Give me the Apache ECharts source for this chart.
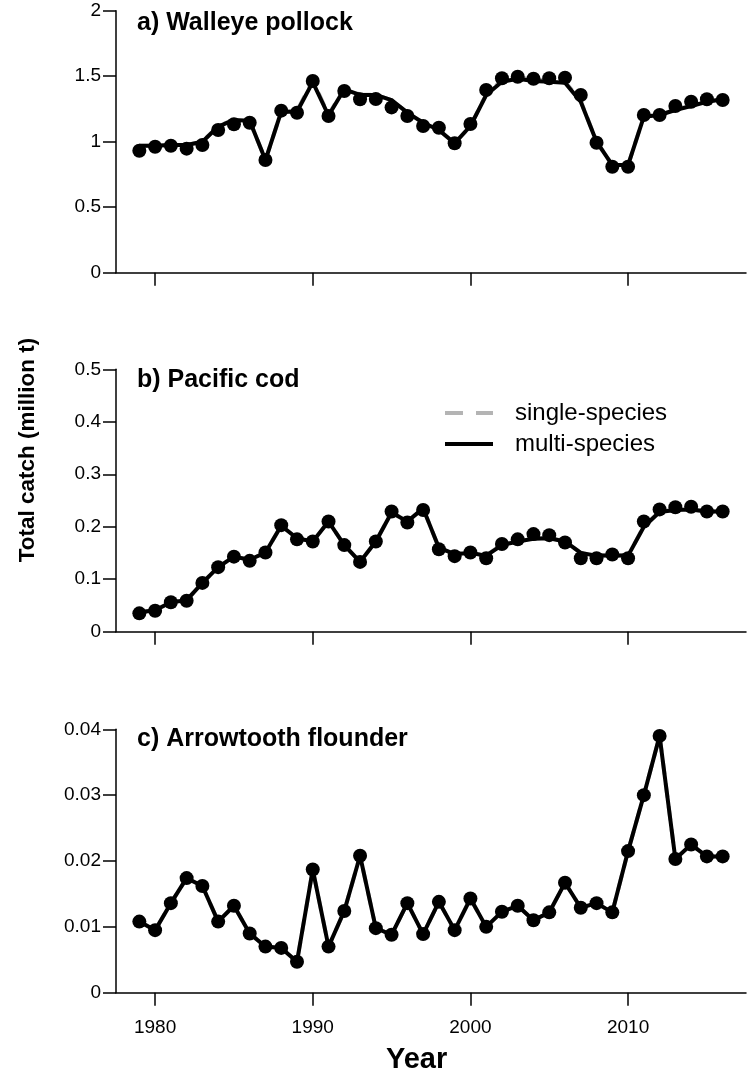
<!DOCTYPE html>
<html>
<head>
<meta charset="utf-8">
<script src="https://cdn.jsdelivr.net/npm/echarts@6/dist/echarts.min.js"></script>
<style>html,body{margin:0;padding:0;background:#fff}#c{width:748px;height:1077px}</style>
</head>
<body>
<div id="c"></div>
<script>
const years = [1979,1980,1981,1982,1983,1984,1985,1986,1987,1988,1989,1990,1991,1992,1993,1994,1995,1996,1997,1998,1999,2000,2001,2002,2003,2004,2005,2006,2007,2008,2009,2010,2011,2012,2013,2014,2015,2016];
const xTicks = [1980,1990,2000,2010];

const pollockObs = [0.931,0.962,0.969,0.947,0.975,1.089,1.133,1.145,0.860,1.237,1.221,1.463,1.196,1.387,1.324,1.326,1.262,1.196,1.120,1.107,0.988,1.135,1.395,1.484,1.496,1.481,1.484,1.489,1.356,0.992,0.809,0.809,1.204,1.204,1.272,1.305,1.324,1.318];
const pollockMulti = [0.969,0.970,0.975,0.975,1.000,1.115,1.166,1.160,0.860,1.229,1.229,1.455,1.200,1.400,1.357,1.357,1.318,1.222,1.145,1.089,0.988,1.120,1.356,1.458,1.481,1.463,1.458,1.450,1.305,1.000,0.822,0.822,1.191,1.204,1.242,1.272,1.305,1.324];
const pollockSingle = [0.969,0.970,0.975,0.975,1.000,1.120,1.166,1.160,0.860,1.229,1.235,1.470,1.205,1.410,1.360,1.357,1.318,1.222,1.145,1.089,0.988,1.120,1.360,1.470,1.490,1.475,1.470,1.460,1.310,1.000,0.822,0.822,1.195,1.206,1.245,1.275,1.307,1.325];

const codObs = [0.035,0.040,0.056,0.059,0.093,0.123,0.143,0.135,0.151,0.203,0.176,0.172,0.210,0.165,0.133,0.172,0.229,0.208,0.232,0.157,0.144,0.151,0.140,0.167,0.176,0.186,0.184,0.170,0.140,0.140,0.147,0.140,0.210,0.233,0.237,0.238,0.229,0.229];
const codMulti = [0.037,0.041,0.056,0.060,0.093,0.123,0.143,0.137,0.151,0.202,0.178,0.172,0.210,0.165,0.133,0.172,0.227,0.210,0.235,0.160,0.148,0.150,0.145,0.165,0.172,0.177,0.178,0.172,0.150,0.145,0.145,0.145,0.200,0.228,0.232,0.233,0.229,0.229];
const codSingle = [0.037,0.041,0.056,0.060,0.093,0.123,0.143,0.137,0.151,0.202,0.178,0.172,0.210,0.165,0.133,0.172,0.227,0.210,0.235,0.160,0.148,0.150,0.145,0.166,0.173,0.178,0.179,0.172,0.150,0.145,0.145,0.145,0.201,0.229,0.233,0.233,0.229,0.229];

const flounderObs = [0.0108,0.0095,0.0136,0.0174,0.0162,0.0108,0.0132,0.0090,0.0070,0.0068,0.0047,0.0187,0.0070,0.0124,0.0208,0.0098,0.0088,0.0136,0.0089,0.0138,0.0095,0.0143,0.0100,0.0123,0.0132,0.0110,0.0122,0.0167,0.0129,0.0136,0.0122,0.0215,0.0300,0.0390,0.0203,0.0225,0.0207,0.0207];
const flounderMulti = [0.0108,0.0095,0.0136,0.0174,0.0162,0.0108,0.0132,0.0090,0.0070,0.0068,0.0047,0.0187,0.0070,0.0124,0.0208,0.0098,0.0088,0.0136,0.0089,0.0138,0.0095,0.0143,0.0100,0.0123,0.0132,0.0110,0.0122,0.0167,0.0129,0.0136,0.0122,0.0215,0.0300,0.0390,0.0203,0.0225,0.0207,0.0207];
const flounderSingle = [0.0108,0.0095,0.0136,0.0174,0.0162,0.0108,0.0132,0.0090,0.0070,0.0068,0.0047,0.0187,0.0070,0.0124,0.0208,0.0098,0.0088,0.0136,0.0089,0.0138,0.0095,0.0143,0.0100,0.0123,0.0132,0.0110,0.0122,0.0167,0.0129,0.0136,0.0122,0.0215,0.0300,0.0390,0.0203,0.0225,0.0207,0.0207];

const panelTitles = ['a) Walleye pollock','b) Pacific cod','c) Arrowtooth flounder'];
const yMax = [2, 0.5, 0.04];
const yInterval = [0.5, 0.1, 0.01];
const obsSets = [pollockObs, codObs, flounderObs];
const multiSets = [pollockMulti, codMulti, flounderMulti];
const singleSets = [pollockSingle, codSingle, flounderSingle];

const FONT = 'Liberation Sans, Arial, sans-serif';
const grids = [
  {left:116, width:630, top:10.7, height:262},
  {left:116, width:630, top:369.3, height:262.4},
  {left:116, width:630, top:729.3, height:263.4}
];
const titleTops = [10.5, 368, 727];

const pairs = (arr) => arr.map((v,i) => [years[i], v]);

const xAxes = grids.map((g,i) => ({
  type:'value', gridIndex:i, min:1977.52, max:2017.48, offset:10.5,
  axisLine:{show:true, lineStyle:{color:'#000', width:1.5}},
  axisTick:{show:true, length:13, customValues:xTicks, lineStyle:{color:'#000', width:1.5}},
  axisLabel:{show:i===2, customValues:xTicks, margin:15, color:'#000', fontSize:19, fontFamily:FONT,
    formatter:(v)=>String(v)},
  splitLine:{show:false}
}));
const yAxes = grids.map((g,i) => ({
  type:'value', gridIndex:i, min:0, max:yMax[i], interval:yInterval[i],
  axisLine:{show:true, lineStyle:{color:'#000', width:1.5}},
  axisTick:{show:true, length:13, lineStyle:{color:'#000', width:1.5}},
  axisLabel:{margin:15, color:'#000', fontSize:19, fontFamily:FONT},
  splitLine:{show:false}
}));

const series = [];
for (let i=0;i<3;i++){
  series.push({
    name:'single-species', type:'line', xAxisIndex:i, yAxisIndex:i,
    data:pairs(singleSets[i]), showSymbol:false, symbol:'none', clip:false,
    itemStyle:{color:'#b4b4b4'}, lineStyle:{color:'#b4b4b4', width:4, type:[14,9]},
    z:2, silent:true, animation:false
  });
  series.push({
    name:'observed', type:'scatter', xAxisIndex:i, yAxisIndex:i,
    data:pairs(obsSets[i]), symbol:'circle', symbolSize:14, clip:false,
    itemStyle:{color:'#000', opacity:1}, z:3, silent:true, animation:false
  });
  series.push({
    name:'multi-species', type:'line', xAxisIndex:i, yAxisIndex:i,
    data:pairs(multiSets[i]), showSymbol:false, symbol:'none', clip:false,
    itemStyle:{color:'#000'}, lineStyle:{color:'#000', width:4},
    z:4, silent:true, animation:false
  });
}

const chart = echarts.init(document.getElementById('c'), null, {renderer:'canvas', width:748, height:1077});
chart.setOption({
  animation:false,
  backgroundColor:'#fff',
  grid:grids,
  xAxis:xAxes,
  yAxis:yAxes,
  title:[
    ...panelTitles.map((t,i)=>({text:t, left:137, top:titleTops[i], padding:0,
      textStyle:{fontSize:25, fontWeight:'bold', color:'#000', fontFamily:FONT}})),
    {text:'Year', left:386, top:1045, padding:0, textStyle:{fontSize:29, fontWeight:'bold', color:'#000', fontFamily:FONT}}
  ],
  legend:{
    orient:'vertical', left:445, top:401, itemWidth:48, itemHeight:4, itemGap:7, padding:0,
    data:[
      {name:'single-species', icon:'path://M0,0H18V4H0ZM31,0H48V4H31Z'},
      {name:'multi-species', icon:'rect'}
    ],
    textStyle:{fontSize:24, color:'#000', fontFamily:FONT, padding:[0,0,0,17]},
    selectedMode:false
  },
  graphic:[
    {type:'text', x:28, y:450, rotation:Math.PI/2,
     style:{text:'Total catch (million t)', font:'bold 22.5px '+FONT, fill:'#000', align:'center', verticalAlign:'middle'}}
  ],
  series:series
});
</script>
</body>
</html>
